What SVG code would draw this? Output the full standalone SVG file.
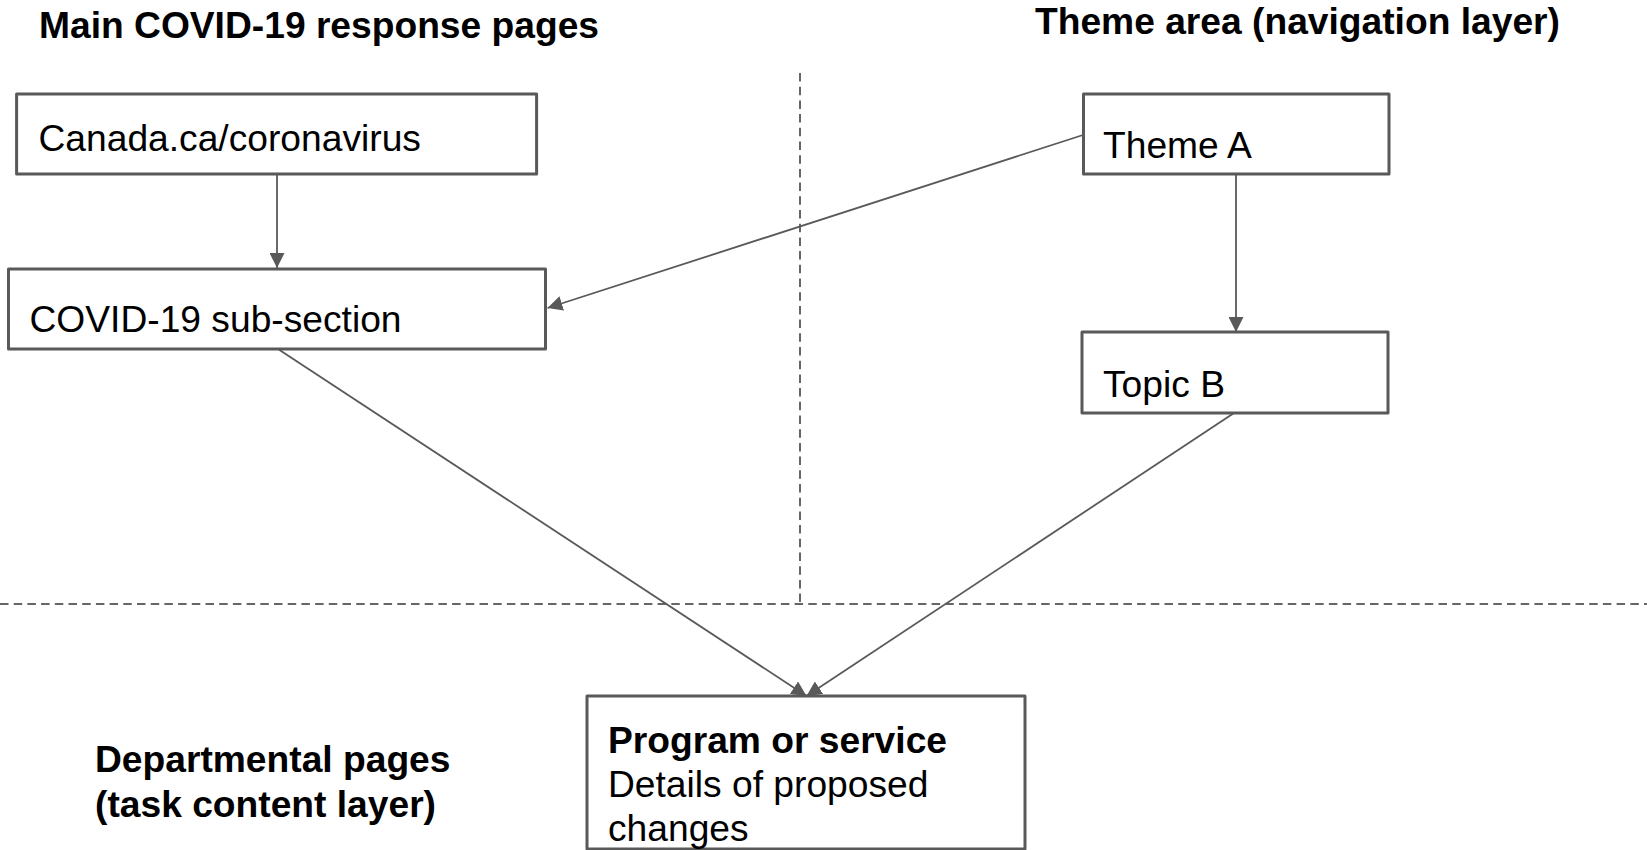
<svg xmlns="http://www.w3.org/2000/svg" width="1647" height="850" viewBox="0 0 1647 850">
<style>
.box{fill:#fff;stroke:#595959;stroke-width:3;stroke-linejoin:round}
.t{font-family:"Liberation Sans",Arial,sans-serif;font-size:37.2px;fill:#000}
.b{font-weight:bold}
.conn{stroke:#595959;stroke-width:1.8;fill:none}
.dash{stroke:#666;stroke-width:2;stroke-dasharray:8.5 5.2;fill:none}
</style>
<defs>
<marker id="arr" markerUnits="userSpaceOnUse" markerWidth="15" markerHeight="15" refX="15" refY="7.5" orient="auto" viewBox="0 0 15 15">
<path d="M0,0 L15,7.5 L0,15 z" fill="#595959"/>
</marker>
</defs>
<rect width="1647" height="850" fill="#fff"/>
<g id="labels">
<text class="t b" x="39" y="38">Main COVID-19 response pages</text>
<text class="t b" x="1035" y="33.5">Theme area (navigation layer)</text>
<text class="t b" x="95" y="771.5">Departmental pages</text>
<text class="t b" x="95" y="816.5">(task content layer)</text>
</g>
<g id="dividers">
<path class="dash" d="M0,604 H1647"/>
<path class="dash" d="M800,73 V604"/>
</g>
<g id="connectors">
<path class="conn" marker-end="url(#arr)" d="M277,174 L277,268"/>
<path class="conn" marker-end="url(#arr)" d="M1083,135 L547.5,308"/>
<path class="conn" marker-end="url(#arr)" d="M1236,174 L1236,332"/>
<path class="conn" marker-end="url(#arr)" d="M278,349 L806.5,696"/>
<path class="conn" marker-end="url(#arr)" d="M1234,413 L806.5,696"/>
</g>
<g id="node-canada">
<rect class="box" x="16.6" y="94" width="520" height="80"/>
<text class="t" x="38.5" y="151">Canada.ca/coronavirus</text>
</g>
<g id="node-subsection">
<rect class="box" x="8.5" y="269" width="537" height="80"/>
<text class="t" x="29.5" y="331.5">COVID-19 sub-section</text>
</g>
<g id="node-themeA">
<rect class="box" x="1083.5" y="94" width="305.5" height="80"/>
<text class="t" x="1103" y="157.5">Theme A</text>
</g>
<g id="node-topicB">
<rect class="box" x="1082" y="332" width="306" height="81"/>
<text class="t" x="1103" y="396.5">Topic B</text>
</g>
<g id="node-program">
<rect class="box" x="587" y="696" width="438" height="153"/>
<text class="t b" x="608" y="752.5">Program or service</text>
<text class="t" x="608" y="796.5">Details of proposed</text>
<text class="t" x="608" y="841">changes</text>
</g>
</svg>
